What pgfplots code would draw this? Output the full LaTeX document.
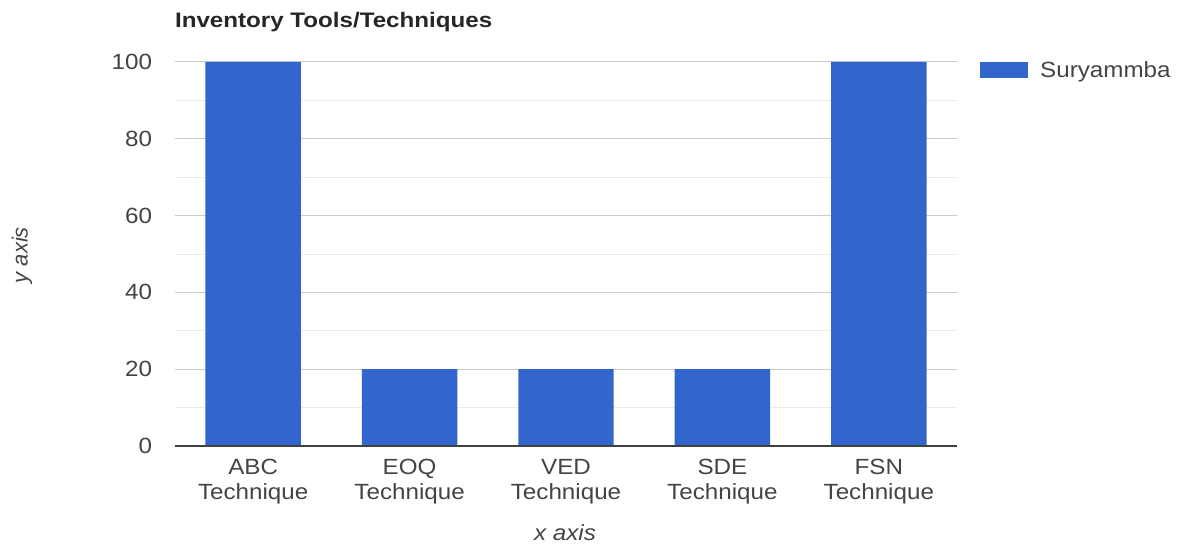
\documentclass[border=0pt]{standalone}
\usepackage{pgfplots}
\pgfplotsset{compat=1.18}
\usepackage{fontspec}
\setmainfont{Liberation Sans}
\definecolor{barblue}{HTML}{3366CC}
\definecolor{txtgray}{HTML}{444444}
\definecolor{majgrid}{HTML}{CCCCCC}
\definecolor{mingrid}{HTML}{EBEBEB}
\newcommand{\lblfont}{\fontsize{22}{25}\selectfont}
\begin{document}
\begin{tikzpicture}[x=1pt,y=1pt]
\path (-175,-96) rectangle (1010,446);
\begin{axis}[
  at={(0,0)}, anchor=south west,
  scale only axis, width=782pt, height=384pt,
  xmin=-0.5, xmax=4.5, ymin=0, ymax=100,
  xtick=data,
  xticklabels={{ABC\\Technique},{EOQ\\Technique},{VED\\Technique},{SDE\\Technique},{FSN\\Technique}},
  xticklabel style={align=center, font=\lblfont, text=txtgray, yshift=-10pt, xscale=1.1},
  ytick={0,20,40,60,80,100},
  minor ytick={10,30,50,70,90},
  yticklabel style={font=\lblfont, text=txtgray, xshift=-19pt, xscale=1.1},
  /pgf/number format/assume math mode=true,
  major tick length=0pt, minor tick length=0pt,
  ymajorgrids, yminorgrids,
  major grid style={majgrid, line width=1pt},
  minor grid style={mingrid, line width=1pt},
  axis line style={draw=none},
  axis x line*=bottom,
  axis y line*=left,
  ybar, bar width=0.61,
  title={\textbf{Inventory Tools/Techniques}},
  title style={at={(rel axis cs:0,1.088)}, anchor=west, xshift=-4pt, font=\fontsize{21}{24}\selectfont, text=black!85, xscale=1.15},
  xlabel={\itshape x axis},
  xlabel style={at={(rel axis cs:0.4987,-0.2266)}, anchor=center, font=\lblfont, text=txtgray, xscale=1.1},
  ylabel={\itshape y axis},
  ylabel style={at={(rel axis cs:-0.1957,0.497)}, anchor=center, rotate=0, font=\lblfont, text=txtgray},
  legend style={at={(rel axis cs:1,1)}, anchor=north west, xshift=20pt, yshift=5pt, draw=none, fill=none,
    font=\lblfont, text=txtgray},
  legend image code/.code={\fill[barblue] (0pt,-8pt) rectangle (48pt,8pt); \path (58pt,0pt);},
]
\addplot[fill=barblue, draw=none] coordinates {(0,100) (1,20) (2,20) (3,20) (4,100)};
\addlegendentry{\scalebox{1.1}[1]{Suryammba}}
\draw[black!75, line width=1.2pt] (rel axis cs:0,0) -- (rel axis cs:1,0);
\end{axis}
\end{tikzpicture}
\end{document}
